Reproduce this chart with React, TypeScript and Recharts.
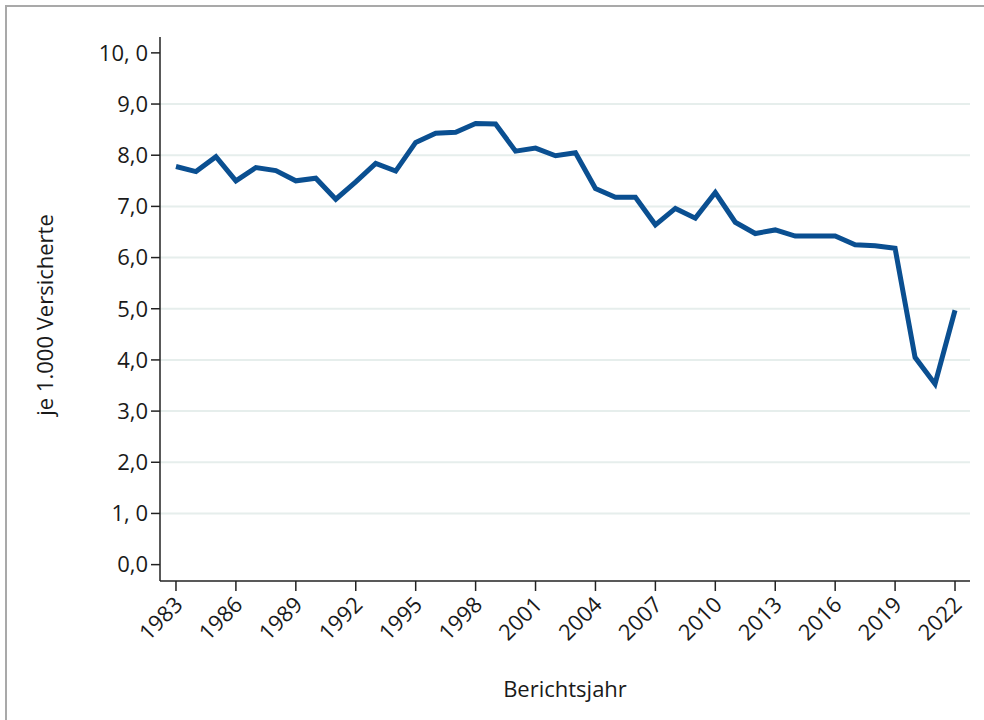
import React from 'react';
import { LineChart, Line, XAxis, YAxis, ReferenceLine, Label } from 'recharts';

const years: number[] = [
  1983, 1984, 1985, 1986, 1987, 1988, 1989, 1990, 1991, 1992,
  1993, 1994, 1995, 1996, 1997, 1998, 1999, 2000, 2001, 2002,
  2003, 2004, 2005, 2006, 2007, 2008, 2009, 2010, 2011, 2012,
  2013, 2014, 2015, 2016, 2017, 2018, 2019, 2020, 2021, 2022,
];

const rates: number[] = [
  7.78, 7.68, 7.97, 7.5, 7.76, 7.7, 7.5, 7.55, 7.14, 7.48,
  7.84, 7.69, 8.25, 8.43, 8.45, 8.62, 8.61, 8.08, 8.14, 7.99,
  8.05, 7.35, 7.18, 7.18, 6.64, 6.96, 6.77, 7.27, 6.69, 6.47,
  6.54, 6.42, 6.42, 6.42, 6.25, 6.23, 6.18, 4.05, 3.53, 4.97,
];

const xTicks: number[] = [1983, 1986, 1989, 1992, 1995, 1998, 2001, 2004, 2007, 2010, 2013, 2016, 2019, 2022];
const yTicks: number[] = [0, 1, 2, 3, 4, 5, 6, 7, 8, 9, 10];
const yTickLabels: string[] = ['0,0', '1, 0', '2,0', '3,0', '4,0', '5,0', '6,0', '7,0', '8,0', '9,0', '10, 0'];
const gridValues: number[] = [1, 2, 3, 4, 5, 6, 7, 8, 9];

const data = years.map((y, i) => ({ year: y, value: rates[i] }));

const FONT = '"Open Sans", "Noto Sans", sans-serif';
const TEXT = '#1a1a1a';

const XTick = (props: any) => {
  const { x, y, payload } = props;
  return (
    <g transform={`translate(${x - 3},${y + 2})`}>
      <text
        x={0}
        y={0}
        dy="0.71em"
        textAnchor="end"
        transform="rotate(-45)"
        fontFamily={FONT}
        fontSize={22}
        fill={TEXT}
      >
        {payload.value}
      </text>
    </g>
  );
};

export default function App() {
  return (
    <div style={{ position: 'absolute', left: 0, top: 0, width: 984, height: 720, overflow: 'hidden', background: '#fff' }}>
      <div
        style={{
          position: 'absolute',
          left: 5,
          top: 5,
          width: 1000,
          height: 740,
          border: '2px solid #a9a9a9',
          boxSizing: 'border-box',
        }}
      />
      <div style={{ position: 'absolute', left: 0, top: 0 }}>
        <LineChart
          width={984}
          height={720}
          data={data}
          margin={{ top: 37, right: 14, bottom: 0, left: 0 }}
        >
          {gridValues.map((v) => (
            <ReferenceLine key={v} y={v} stroke="#e6eeec" strokeWidth={2} ifOverflow="extendDomain" />
          ))}
          <XAxis
            dataKey="year"
            type="number"
            domain={[1982.2, 2022.75]}
            ticks={xTicks}
            interval={0}
            allowDataOverflow
            tickSize={10}
            tickMargin={2}
            tick={<XTick />}
            axisLine={{ stroke: '#222', strokeWidth: 1.5 }}
            tickLine={{ stroke: '#222', strokeWidth: 1.5 }}
            height={139}
          >
            <Label
              content={(p: any) => {
                const vb = p.viewBox;
                const cx = vb.x + vb.width / 2;
                const cy = vb.y + 107;
                return (
                  <text x={cx} y={cy} textAnchor="middle" dominantBaseline="central" fontFamily={FONT} fontSize={22} fill={TEXT}>
                    Berichtsjahr
                  </text>
                );
              }}
            />
          </XAxis>
          <YAxis
            type="number"
            domain={[-0.32, 10.31]}
            ticks={yTicks}
            interval={0}
            allowDataOverflow
            width={160}
            tickSize={9}
            tickMargin={3}
            tickFormatter={(v: number) => yTickLabels[yTicks.indexOf(v)] ?? String(v)}
            tick={{ fontFamily: FONT, fontSize: 22, fill: TEXT }}
            axisLine={{ stroke: '#222', strokeWidth: 1.5 }}
            tickLine={{ stroke: '#222', strokeWidth: 1.5 }}
          >
            <Label
              content={(p: any) => {
                const vb = p.viewBox;
                const cx = vb.x + 44;
                const cy = vb.y + vb.height / 2 + 6;
                return (
                  <text
                    x={cx}
                    y={cy}
                    textAnchor="middle"
                    dominantBaseline="central"
                    transform={`rotate(-90 ${cx} ${cy})`}
                    fontFamily={FONT}
                    fontSize={22}
                    fill={TEXT}
                  >
                    je 1.000 Versicherte
                  </text>
                );
              }}
            />
          </YAxis>
          <Line
            type="linear"
            dataKey="value"
            stroke="#0a4f91"
            strokeWidth={5}
            dot={false}
            activeDot={false}
            isAnimationActive={false}
          />
        </LineChart>
      </div>
    </div>
  );
}
